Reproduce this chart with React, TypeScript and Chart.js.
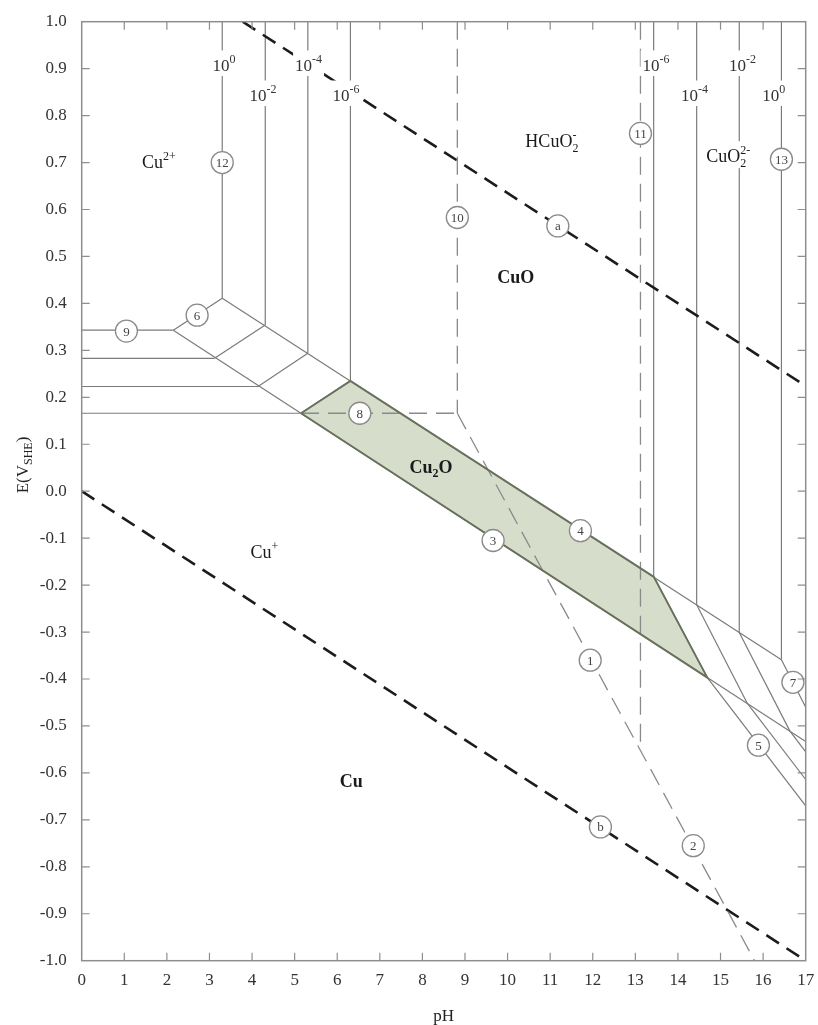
import React, { useEffect, useRef } from 'react';
import { Chart, registerables } from 'chart.js';

Chart.register(...registerables);

// ---------- axis ----------
const xMin = 0, xMax = 17, yMin = -1, yMax = 1;

// ---------- Cu2+ side (concentrations 10^0, 10^-2, 10^-4, 10^-6) ----------
const cuoCu2pH = [3.30, 4.31, 5.31, 6.31];          // CuO / Cu2+ vertical lines (12)
const cuoCu2Ebottom = [0.411, 0.354, 0.294, 0.235];  // lower ends of those verticals
const cu2cuE = [0.343, 0.283, 0.223, 0.166];         // horizontal lines (9)
const cu2cuEndpH = [2.15, 3.12, 4.14, 5.15];         // right ends of horizontals

// ---------- CuO2 2- side ----------
const cuo2pH = [13.43, 14.44, 15.44, 16.43];          // verticals (13)
const cuo2Ebottom = [-0.182, -0.242, -0.301, -0.359];
const line7EndpH = [14.69, 15.63, 16.63, 17];        // Cu2O / CuO2 2- (7)
const line7EndE = [-0.397, -0.452, -0.511, -0.460];
const line5StartpH = [14.69, 15.63, 16.63];          // Cu / CuO2 2- (5)
const line5StartE = [-0.397, -0.452, -0.511];
const line5EndE = [-0.670, -0.614, -0.555];

// ---------- long lines ----------
const line4pH = [3.30, 16.43];   const line4E = [0.411, -0.359];   // CuO / Cu2O
const line3pH = [2.15, 17];      const line3E = [0.343, -0.533];   // Cu2O / Cu
const cu2oPH = [5.15, 6.31, 13.43, 14.69, 5.15];                   // shaded Cu2O field
const cu2oE = [0.166, 0.235, -0.182, -0.397, 0.166];

// ---------- dashed (10^-6 metastable) ----------
const line10pH = [8.82, 8.82];   const line10E = [1.0, 0.166];
const line8pH = [5.15, 8.82];    const line8E = [0.166, 0.166];
const line12pH = [8.82, 15.80];  const line12E = [0.166, -1.0];    // lines 1 & 2
const line11pH = [13.12, 13.12]; const line11E = [1.0, -0.552];

// ---------- water lines ----------
const waterApH = [3.78, 17];     const waterAE = [1.0, 0.224];
const waterBpH = [0, 17];        const waterBE = [0.0, -1.0];

// ---------- circled labels ----------
const circleText = ['12', '9', '6', '8', '10', 'a', '11', '13', '4', '3', '1', '7', '5', 'b', '2'];
const circlePH = [3.30, 1.05, 2.71, 6.53, 8.82, 11.18, 13.12, 16.43, 11.71, 9.66, 11.94, 16.70, 15.89, 12.18, 14.36];
const circleE = [0.700, 0.341, 0.375, 0.166, 0.583, 0.565, 0.762, 0.707, -0.084, -0.105, -0.360, -0.407, -0.541, -0.715, -0.755];

// ---------- concentration labels ----------
const concText = ['10^{0}', '10^{-2}', '10^{-4}', '10^{-6}', '10^{-6}', '10^{-4}', '10^{-2}', '10^{0}'];
const concPH = [3.07, 3.94, 5.01, 5.89, 13.17, 14.07, 15.20, 15.98];
const concE = [0.908, 0.844, 0.908, 0.844, 0.908, 0.844, 0.908, 0.844];

// ---------- region labels ----------
const regionText = ['Cu^{2+}', 'CuO', 'Cu_{2}O', 'Cu^{+}', 'Cu', 'HCuO_{2}^{-}', 'CuO_{2}^{2-}'];
const regionPH = [1.81, 10.19, 8.20, 4.29, 6.33, 11.04, 15.18];
const regionE = [0.700, 0.457, 0.052, -0.129, -0.618, 0.745, 0.713];
const regionBold = [false, true, true, false, true, false, false];
const regionBg = [false, false, false, false, false, true, true];

const SERIF = '"Liberation Serif", "DejaVu Serif", "Times New Roman", serif';

type Seg = { base: string; sub?: string; sup?: string };
function parseRich(s: string): Seg[] {
  const segs: Seg[] = [];
  let i = 0;
  let cur: Seg = { base: '' };
  while (i < s.length) {
    const c = s[i];
    if ((c === '_' || c === '^') && s[i + 1] === '{') {
      const end = s.indexOf('}', i);
      const txt = s.slice(i + 2, end);
      if (c === '_') {
        if (cur.sub !== undefined) { segs.push(cur); cur = { base: '' }; }
        cur.sub = txt;
      } else {
        if (cur.sup !== undefined) { segs.push(cur); cur = { base: '' }; }
        cur.sup = txt;
      }
      i = end + 1;
    } else {
      if (cur.sub !== undefined || cur.sup !== undefined) { segs.push(cur); cur = { base: '' }; }
      cur.base += c;
      i++;
    }
  }
  segs.push(cur);
  return segs;
}

function drawRich(ctx: CanvasRenderingContext2D, s: string, x: number, y: number, size: number,
  opts: { bold?: boolean; align?: 'left' | 'center'; bg?: boolean; color?: string }) {
  const segs = parseRich(s);
  const w = opts.bold ? 'bold ' : '';
  const mainFont = `${w}${size}px ${SERIF}`;
  const small = Math.round(size * 0.68);
  const smallFont = `${w}${small}px ${SERIF}`;
  let total = 0;
  const widths = segs.map((sg) => {
    ctx.font = mainFont;
    const bw = ctx.measureText(sg.base).width;
    ctx.font = smallFont;
    const sw = Math.max(sg.sub ? ctx.measureText(sg.sub).width : 0, sg.sup ? ctx.measureText(sg.sup).width : 0);
    total += bw + sw;
    return [bw, sw];
  });
  let left = opts.align === 'left' ? x : x - total / 2;
  if (opts.bg) {
    ctx.fillStyle = '#ffffff';
    ctx.fillRect(left - 2, y - size * 0.85, total + 4, size * 1.5);
  }
  const baseline = y + size * 0.33;
  ctx.fillStyle = opts.color || '#222';
  ctx.textAlign = 'left';
  ctx.textBaseline = 'alphabetic';
  segs.forEach((sg, k) => {
    const [bw, sw] = widths[k];
    ctx.font = mainFont;
    ctx.fillText(sg.base, left, baseline);
    left += bw;
    ctx.font = smallFont;
    if (sg.sup) ctx.fillText(sg.sup, left, baseline - size * 0.45);
    if (sg.sub) ctx.fillText(sg.sub, left, baseline + size * 0.25);
    left += sw;
  });
}

const thin = { borderColor: '#7b7b7b', borderWidth: 1.2 };
const dashThin = { borderColor: '#8a8a8a', borderWidth: 1.3, borderDash: [18, 9] };
const dashHeavy = { borderColor: '#1c1c1c', borderWidth: 2.6, borderDash: [15, 9] };

function seg(xs: number[], ys: number[], style: any, order = 5): any {
  return {
    type: 'line',
    data: xs.map((x, i) => ({ x, y: ys[i] })),
    showLine: true,
    pointRadius: 0,
    fill: false,
    tension: 0,
    order,
    ...style,
  };
}

function buildDatasets(): any[] {
  const ds: any[] = [];
  // shaded Cu2O field
  ds.push({
    ...seg(cu2oPH, cu2oE, { borderColor: 'rgba(0,0,0,0)', borderWidth: 0 }, 20),
    fill: 'shape',
    backgroundColor: '#d6ddcb',
  });
  // Cu2+ side
  for (let i = 0; i < 4; i++) {
    ds.push(seg([cuoCu2pH[i], cuoCu2pH[i]], [1.0, cuoCu2Ebottom[i]], thin));
    ds.push(seg([0, cu2cuEndpH[i]], [cu2cuE[i], cu2cuE[i]], thin));
    ds.push(seg([cu2cuEndpH[i], cuoCu2pH[i]], [cu2cuE[i], cuoCu2Ebottom[i]], thin));
  }
  // CuO2 2- side
  for (let i = 0; i < 4; i++) {
    ds.push(seg([cuo2pH[i], cuo2pH[i]], [1.0, cuo2Ebottom[i]], thin));
    ds.push(seg([cuo2pH[i], line7EndpH[i]], [cuo2Ebottom[i], line7EndE[i]], thin));
  }
  for (let i = 0; i < 3; i++) {
    ds.push(seg([line5StartpH[i], 17], [line5StartE[i], line5EndE[i]], thin));
  }
  ds.push(seg(line4pH, line4E, thin));
  ds.push(seg(line3pH, line3E, thin));
  // outline of Cu2O field
  ds.push(seg(cu2oPH, cu2oE, { borderColor: '#67715c', borderWidth: 1.9 }, 2));
  // dashed
  ds.push(seg(line10pH, line10E, dashThin, 3));
  ds.push(seg(line8pH, line8E, dashThin, 3));
  ds.push(seg(line12pH, line12E, dashThin, 3));
  ds.push(seg(line11pH, line11E, dashThin, 3));
  ds.push(seg(waterApH, waterAE, dashHeavy, 3));
  ds.push(seg(waterBpH, waterBE, dashHeavy, 3));
  // circles
  ds.push({
    type: 'line',
    data: circlePH.map((x, i) => ({ x, y: circleE[i] })),
    showLine: false,
    pointRadius: 11,
    pointBackgroundColor: '#ffffff',
    pointBorderColor: '#8a8a8a',
    pointBorderWidth: 1.3,
    order: 0,
    clip: false,
  });
  return ds;
}

const decorPlugin = {
  id: 'decor',
  afterDatasetsDraw(chart: any) {
    const { ctx, chartArea: a, scales } = chart;
    const xs = scales.x, ys = scales.y;
    ctx.save();
    // concentration labels
    concText.forEach((t, i) => {
      drawRich(ctx, t, xs.getPixelForValue(concPH[i]), ys.getPixelForValue(concE[i]), 17, { align: 'left', bg: true, color: '#333' });
    });
    // region labels
    regionText.forEach((t, i) => {
      drawRich(ctx, t, xs.getPixelForValue(regionPH[i]), ys.getPixelForValue(regionE[i]), 18,
        { bold: regionBold[i], bg: regionBg[i], color: '#1a1a1a' });
    });
    // circle numbers
    ctx.font = `13px ${SERIF}`;
    ctx.fillStyle = '#444';
    ctx.textAlign = 'center';
    ctx.textBaseline = 'middle';
    circleText.forEach((t, i) => {
      ctx.fillText(t, xs.getPixelForValue(circlePH[i]), ys.getPixelForValue(circleE[i]) + 1);
    });
    // frame
    ctx.strokeStyle = '#8e8e8e';
    ctx.lineWidth = 1.5;
    ctx.setLineDash([]);
    ctx.strokeRect(a.left, a.top, a.right - a.left, a.bottom - a.top);
    ctx.lineWidth = 1.2;
    ctx.beginPath();
    xs.ticks.forEach((t: any) => {
      if (t.value <= xMin || t.value >= xMax) return;
      const p = xs.getPixelForValue(t.value);
      ctx.moveTo(p, a.bottom); ctx.lineTo(p, a.bottom - 8);
      ctx.moveTo(p, a.top); ctx.lineTo(p, a.top + 8);
    });
    ys.ticks.forEach((t: any) => {
      if (t.value <= yMin + 1e-9 || t.value >= yMax - 1e-9) return;
      const p = ys.getPixelForValue(t.value);
      ctx.moveTo(a.left, p); ctx.lineTo(a.left + 8, p);
      ctx.moveTo(a.right, p); ctx.lineTo(a.right - 8, p);
    });
    ctx.stroke();
    // axis titles
    drawRich(ctx, 'pH', (a.left + a.right) / 2, 1015, 17, { color: '#222' });
    ctx.translate(22, 465);
    ctx.rotate(-Math.PI / 2);
    drawRich(ctx, 'E(V_{SHE})', 0, 0, 17, { color: '#222' });
    ctx.restore();
  },
};

export default function App() {
  const ref = useRef<HTMLCanvasElement | null>(null);
  useEffect(() => {
    if (!ref.current) return;
    const chart = new Chart(ref.current, {
      type: 'line',
      data: { datasets: buildDatasets() },
      options: {
        responsive: false,
        animation: false,
        events: [],
        layout: { padding: { top: 21.7, right: 10.3, left: 0, bottom: 0 } },
        plugins: { legend: { display: false }, tooltip: { enabled: false } },
        scales: {
          x: {
            type: 'linear',
            min: xMin,
            max: xMax,
            grid: { display: false, drawTicks: false },
            border: { display: false },
            ticks: {
              stepSize: 1,
              autoSkip: false,
              maxRotation: 0,
              padding: 10,
              color: '#333',
              font: { family: SERIF, size: 17 },
            },
            afterFit: (s: any) => { s.height = 1025 - 960.7; s.paddingLeft = 0; s.paddingRight = 0; },
          },
          y: {
            type: 'linear',
            min: yMin,
            max: yMax,
            grid: { display: false, drawTicks: false },
            border: { display: false },
            ticks: {
              stepSize: 0.1,
              autoSkip: false,
              padding: 15,
              color: '#333',
              font: { family: SERIF, size: 17 },
              callback: (v: any) => (Math.abs(Number(v)) < 1e-9 ? '0.0' : Number(v).toFixed(1)),
            },
            afterFit: (s: any) => { s.width = 81.7; s.paddingTop = 0; s.paddingBottom = 0; },
          },
        },
      } as any,
      plugins: [decorPlugin],
    });
    return () => chart.destroy();
  }, []);
  return (
    <div style={{ position: 'absolute', left: 0, top: 0, width: 818, height: 1025, background: '#fff' }}>
      <canvas ref={ref} width={818} height={1025} style={{ display: 'block' }} />
    </div>
  );
}
